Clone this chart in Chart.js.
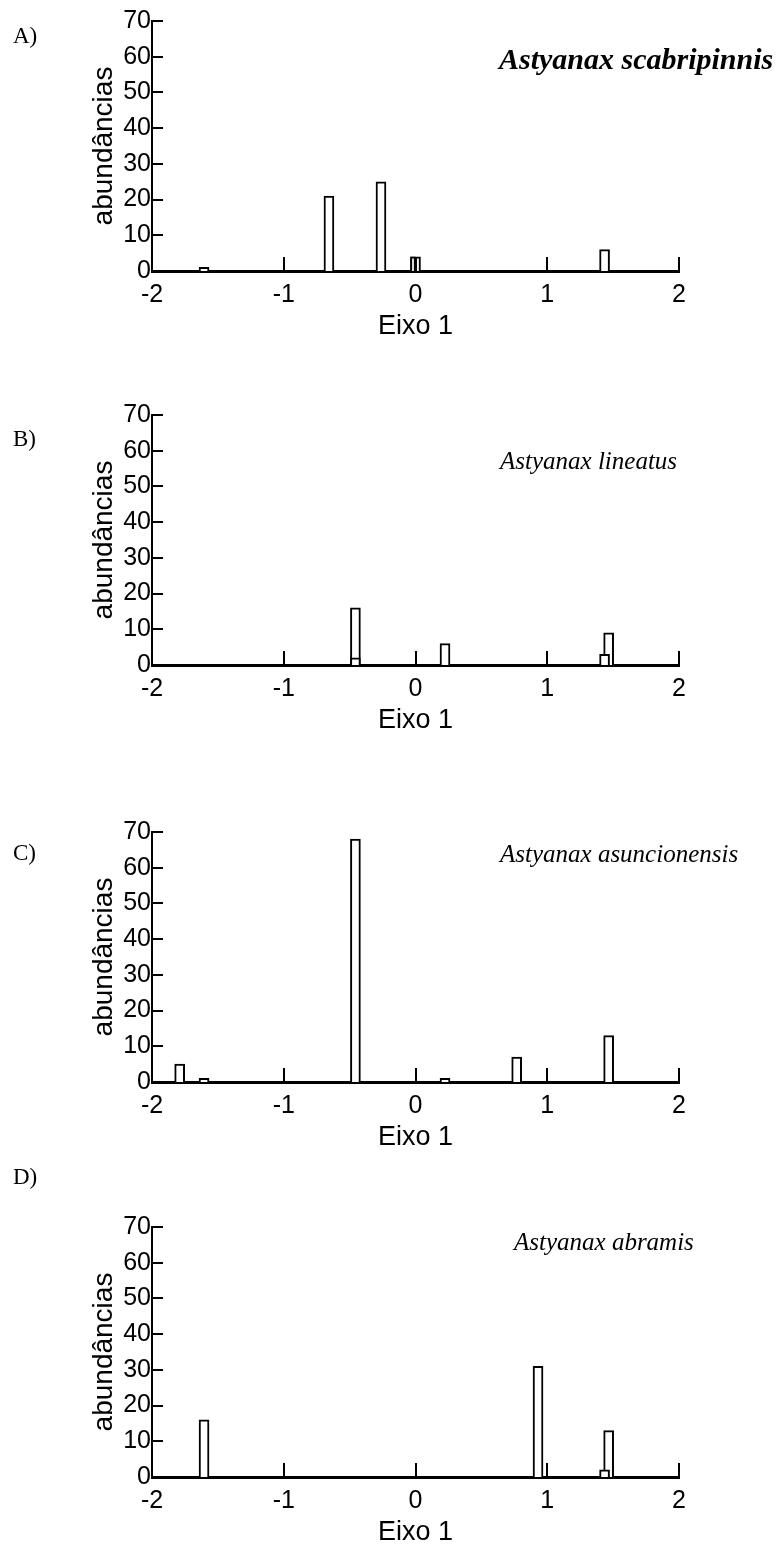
<!DOCTYPE html>
<html><head><meta charset="utf-8">
<script src="https://cdn.jsdelivr.net/npm/chart.js@4.4.0/dist/chart.umd.min.js"></script>
<style>
html,body{margin:0;padding:0;background:#fff;}
body{width:777px;height:1551px;position:relative;overflow:hidden;}
canvas{position:absolute;left:0;}
.lbl{position:absolute;font-family:'Liberation Serif','Times New Roman',serif;font-size:23px;line-height:1;color:#000;white-space:nowrap;z-index:2;}
.sp{position:absolute;font-family:'Liberation Serif','Times New Roman',serif;font-style:italic;font-size:25px;line-height:1;color:#000;white-space:nowrap;z-index:2;}
</style></head><body>
<canvas id="cA"></canvas>
<canvas id="cB"></canvas>
<canvas id="cC"></canvas>
<canvas id="cD"></canvas>
<div class="lbl" style="left:13px;top:24px;">A)</div>
<div class="lbl" style="left:13px;top:427px;">B)</div>
<div class="lbl" style="left:13px;top:841px;">C)</div>
<div class="lbl" style="left:13px;top:1165px;">D)</div>
<div class="sp" style="left:499px;top:44px;font-size:30px;font-weight:bold;">Astyanax scabripinnis</div>
<div class="sp" style="left:500px;top:448px;">Astyanax lineatus</div>
<div class="sp" style="left:500px;top:841px;">Astyanax asuncionensis</div>
<div class="sp" style="left:514px;top:1229px;">Astyanax abramis</div>
<script>
// ---- data ----
const xTickValues = [-2, -1, 0, 1, 2];
const xTickLabels = ['-2', '-1', '0', '1', '2'];
const yTickValues = [0, 10, 20, 30, 40, 50, 60, 70];
const yTickLabels = ['0', '10', '20', '30', '40', '50', '60', '70'];
const xAxisTitle = 'Eixo 1';
const yAxisTitle = 'abundâncias';

// Panel A – Astyanax scabripinnis
const axisA = [-1.605, -0.657, -0.262, 0.0, 1.435];
const abundA = [1, 21, 25, 4, 6];
const axisA2 = [-0.019];
const abundA2 = [4];
// Panel B – Astyanax lineatus
const axisB = [-0.456, 0.224, 1.466];
const abundB = [16, 6, 9];
const axisB2 = [-0.456, 1.435];
const abundB2 = [2, 3];
// Panel C – Astyanax asuncionensis
const axisC = [-1.79, -1.605, -0.456, 0.224, 0.768, 1.466];
const abundC = [5, 1, 68, 1, 7, 13];
const axisC2 = [];
const abundC2 = [];
// Panel D – Astyanax abramis
const axisD = [-1.605, 0.93, 1.466];
const abundD = [16, 31, 13];
const axisD2 = [1.435];
const abundD2 = [2];

// ---- drawing ----
const tickFont = {family: "'Liberation Sans', Arial, sans-serif", size: 25};
const xTitleFont = {family: "'Liberation Sans', Arial, sans-serif", size: 27};
const yTitleFont = {family: "'Liberation Sans', Arial, sans-serif", size: 28};

const inwardTicks = {
  id: 'inwardTicks',
  afterDraw(chart) {
    const {ctx, chartArea, scales: {x, y}} = chart;
    ctx.save();
    ctx.strokeStyle = '#000';
    ctx.lineWidth = 2;
    ctx.beginPath();
    y.ticks.forEach(t => {
      if (t.value === 0) return;
      const py = Math.round(y.getPixelForValue(t.value));
      ctx.moveTo(chartArea.left, py);
      ctx.lineTo(chartArea.left + 11, py);
    });
    x.ticks.forEach(t => {
      if (t.value === -2) return;
      const px = Math.round(x.getPixelForValue(t.value));
      ctx.moveTo(px, chartArea.bottom);
      ctx.lineTo(px, chartArea.bottom - 14);
    });
    ctx.stroke();
    ctx.restore();
  }
};

function makePanel(id, top70, xs, ys, xs2, ys2, thick2) {
  const canvas = document.getElementById(id);
  const padTop = 20, plotH = 250, xH = 72;
  canvas.width = 777;
  canvas.height = padTop + plotH + xH;
  canvas.style.top = (top70 - padTop) + 'px';
  const barStyle = {backgroundColor: '#fff', borderColor: '#000', borderWidth: 2, grouped: false};
  new Chart(canvas, {
    type: 'bar',
    data: {
      datasets: [
        Object.assign({label: 'main', order: 1, barThickness: 10,
          data: xs.map((v, i) => ({x: v, y: ys[i]}))}, barStyle),
        Object.assign({label: 'overlay', order: 0, barThickness: thick2,
          data: xs2.map((v, i) => ({x: v, y: ys2[i]}))}, barStyle)
      ]
    },
    options: {
      responsive: false,
      animation: false,
      events: [],
      layout: {padding: {top: padTop, right: 98, left: 0, bottom: 0}},
      plugins: {legend: {display: false}, tooltip: {enabled: false}},
      scales: {
        x: {
          type: 'linear', min: -2, max: 2, offset: false,
          afterBuildTicks: s => { s.ticks = xTickValues.map(v => ({value: v})); },
          afterFit: s => { s.height = xH; },
          grid: {display: false, drawTicks: false},
          border: {display: true, color: '#000', width: 3},
          ticks: {color: '#000', font: tickFont, padding: 9, maxRotation: 0, autoSkip: false,
            callback: v => xTickLabels[xTickValues.indexOf(v)]},
          title: {display: true, text: xAxisTitle, color: '#000', font: xTitleFont, padding: {top: 0, bottom: 0}}
        },
        y: {
          type: 'linear', min: 0, max: 70,
          afterBuildTicks: s => { s.ticks = yTickValues.map(v => ({value: v})); },
          afterFit: s => { s.width = 152; },
          grid: {display: false, drawTicks: false},
          border: {display: true, color: '#000', width: 2},
          ticks: {color: '#000', font: tickFont, padding: 1, autoSkip: false,
            callback: v => yTickLabels[yTickValues.indexOf(v)]},
          title: {display: true, text: yAxisTitle, color: '#000', font: yTitleFont, padding: {top: 87, bottom: 0}}
        }
      }
    },
    plugins: [inwardTicks]
  });
}

makePanel('cA', 20.7, axisA, abundA, axisA2, abundA2, 5);
makePanel('cB', 415.3, axisB, abundB, axisB2, abundB2, 10);
makePanel('cC', 831.7, axisC, abundC, axisC2, abundC2, 10);
makePanel('cD', 1226.7, axisD, abundD, axisD2, abundD2, 10);
</script>
</body></html>
